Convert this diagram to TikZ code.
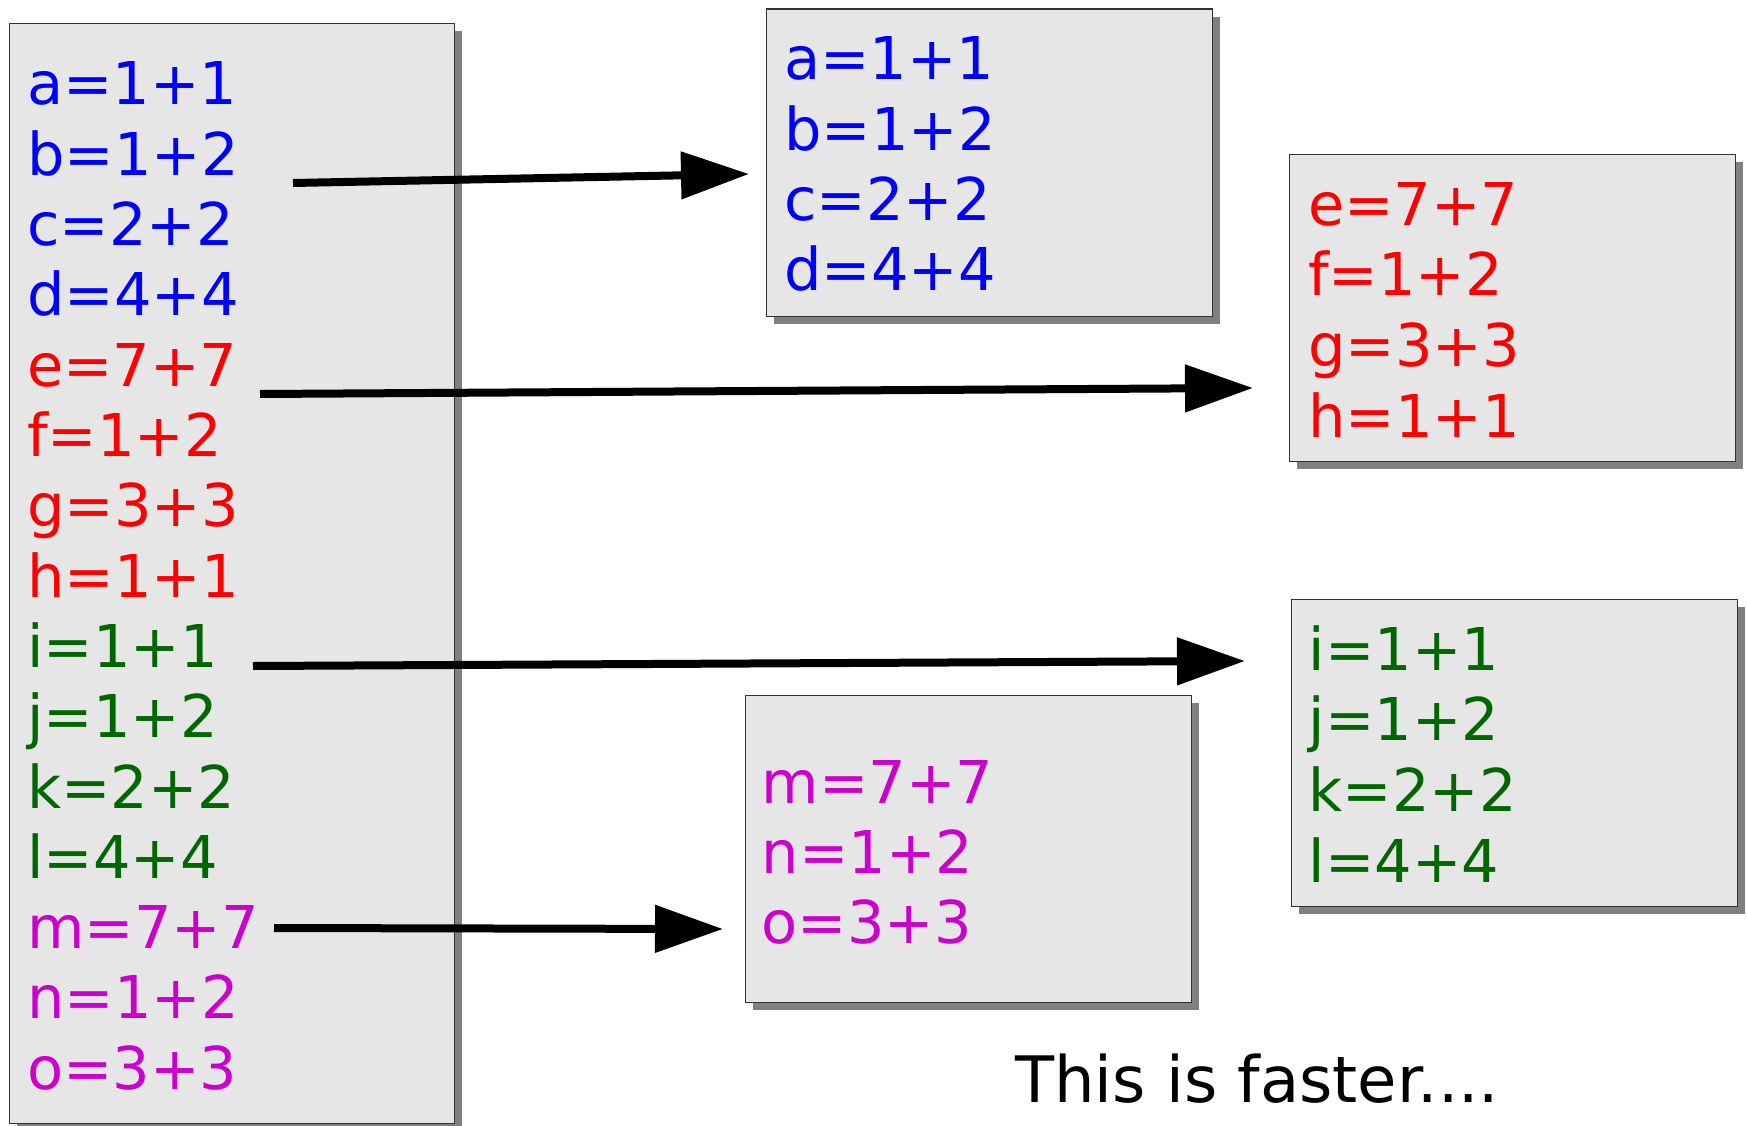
\documentclass[tikz,border=0pt]{standalone}
\usepackage{fontspec}
\setmainfont{DejaVu Sans}
\usetikzlibrary{arrows.meta,shadows}
\definecolor{cblue}{RGB}{0,0,255}
\definecolor{cred}{RGB}{255,0,0}
\definecolor{cgreen}{RGB}{0,102,0}
\definecolor{cmag}{RGB}{204,0,204}
\definecolor{boxgray}{RGB}{230,230,230}
\definecolor{shadowgray}{RGB}{128,128,128}
\begin{document}
\begin{tikzpicture}[x=1pt,y=-1pt,
  box/.style={draw=black!80, line width=1.2pt, fill=boxgray, rectangle, anchor=north west, inner sep=0pt,
    drop shadow={shadow xshift=7.5pt, shadow yshift=-7.5pt, fill=shadowgray, opacity=1}},
  ln/.style={anchor=base west, inner sep=0pt, font=\fontsize{59pt}{70pt}\selectfont},
  arr/.style={line width=8pt, -{Triangle[length=68pt,width=46pt]}}]
\useasboundingbox (0,0) rectangle (1747,1126);
% boxes
\node[box, minimum width=445.5pt, minimum height=1100pt] (B1) at (8.5,23) {};
\node[box, minimum width=446pt, minimum height=307pt] (B2) at (765.5,8.5) {};
\node[box, minimum width=446pt, minimum height=307pt] (B3) at (1289,154) {};
\node[box, minimum width=446pt, minimum height=307pt] (B4) at (744.5,695) {};
\node[box, minimum width=446pt, minimum height=307pt] (B5) at (1291,599) {};
% left list
\foreach \t/\c [count=\i] in {a=1+1/cblue,b=1+2/cblue,c=2+2/cblue,d=4+4/cblue,
  e=7+7/cred,f=1+2/cred,g=3+3/cred,h=1+1/cred,
  i=1+1/cgreen,j=1+2/cgreen,k=2+2/cgreen,l=4+4/cgreen,
  m=7+7/cmag,n=1+2/cmag,o=3+3/cmag}
  \node[ln, text=\c] (L\i) at (27,{105+70.3*(\i-1)}) {\t};
% box 2
\foreach \t [count=\i] in {a=1+1,b=1+2,c=2+2,d=4+4}
  \node[ln, text=cblue] (P\i) at (784,{80+70.2*(\i-1)}) {\t};
% box 3
\foreach \t [count=\i] in {e=7+7,f=1+2,g=3+3,h=1+1}
  \node[ln, text=cred] (Q\i) at (1308,{225+70.7*(\i-1)}) {\t};
% box 5
\foreach \t [count=\i] in {i=1+1,j=1+2,k=2+2,l=4+4}
  \node[ln, text=cgreen] (R\i) at (1308.5,{670+70.7*(\i-1)}) {\t};
% box 4
\foreach \t [count=\i] in {m=7+7,n=1+2,o=3+3}
  \node[ln, text=cmag] (S\i) at (761.5,{803+70*(\i-1)}) {\t};
% arrows
\coordinate (s1) at (293,183); \coordinate (t1) at (749,174);
\coordinate (s2) at (260,394); \coordinate (t2) at (1253,388);
\coordinate (s3) at (253,666); \coordinate (t3) at (1245,661);
\coordinate (s4) at (274,928); \coordinate (t4) at (723,929);
\draw[arr] (s1) -- (t1);
\draw[arr] (s2) -- (t2);
\draw[arr] (s3) -- (t3);
\draw[arr] (s4) -- (t4);
% note
\node[anchor=base west, inner sep=0pt, font=\fontsize{64pt}{77pt}\selectfont] (note) at (1015,1102) {This is faster....};
\end{tikzpicture}
\end{document}
